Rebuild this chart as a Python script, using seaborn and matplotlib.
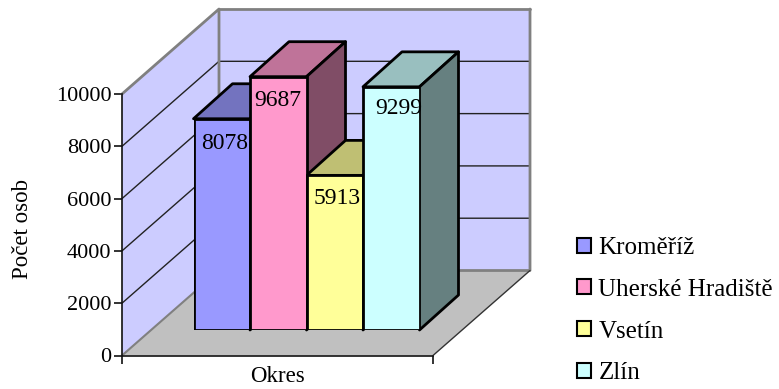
import matplotlib
matplotlib.use("Agg")
import matplotlib.pyplot as plt
from matplotlib.colors import to_rgb
from matplotlib.patches import Polygon, Rectangle
import pandas as pd
import seaborn as sns

districts = ["Kroměříž", "Uherské Hradiště", "Vsetín", "Zlín"]
people = [8078, 9687, 5913, 9299]
colors = ["#9999FF", "#FF99CC", "#FFFF99", "#CCFFFF"]
value_ticks = [0, 2000, 4000, 6000, 8000, 10000]

W, H = 779, 389
sns.set_style("white")
plt.rcParams["font.family"] = ["Liberation Serif", "DejaVu Serif"]
plt.rcParams["text.color"] = "black"
plt.rcParams["axes.labelcolor"] = "black"
plt.rcParams["xtick.labelcolor"] = "black"
plt.rcParams["ytick.labelcolor"] = "black"
WALL, FLOOR, FRAME, GRID = "#CCCCFF", "#C0C0C0", "#808080", "#222222"


def axes_at(fig, left, top, right, bottom):
    """Axes placed by pixel edges, measured from the top-left corner."""
    return fig.add_axes([left / W, 1 - bottom / H, (right - left) / W, (bottom - top) / H])


def shade(color, factor):
    return tuple(c * factor for c in to_rgb(color))


fig = plt.figure(figsize=(W / 100, H / 100), dpi=100)

# Room: the y scale of these axes belongs to the front edge of the left wall.
room = axes_at(fig, 122, 94, 433, 355.5)
room.set_xlim(0, 1)
room.set_ylim(0, 10000)
room.patch.set_visible(False)
dx, dy = 97 / 311, 3250
top = value_ticks[-1]

room.add_patch(Polygon([(0, 0), (dx, dy), (1 + dx, dy), (1, 0)], fc=FLOOR, ec="none", zorder=1, clip_on=False))
room.add_patch(Polygon([(0, 0), (dx, dy), (dx, top + dy), (0, top)], fc=WALL, ec="none", zorder=1, clip_on=False))
room.add_patch(Polygon([(dx, dy), (1 + dx, dy), (1 + dx, top + dy), (dx, top + dy)], fc=WALL, ec="none", zorder=1, clip_on=False))
for v in value_ticks[1:-1]:
    room.plot([0, dx, 1 + dx], [v, v + dy, v + dy], color=GRID, lw=1, zorder=2, clip_on=False)
room.plot([0, dx, dx, 1 + dx, 1 + dx], [top, top + dy, dy, dy, top + dy], color=FRAME, lw=2, zorder=3, clip_on=False)
room.plot([dx, 1 + dx], [top + dy, top + dy], color=FRAME, lw=2, zorder=3, clip_on=False)
room.plot([dx, 0], [dy, 0], color=FRAME, lw=1.5, zorder=3, clip_on=False)
room.plot([1, 1 + dx], [0, dy], color="#333333", lw=1, zorder=3, clip_on=False)

for side in ("top", "right"):
    room.spines[side].set_visible(False)
for side in ("left", "bottom"):
    room.spines[side].set_color("#111111")
    room.spines[side].set_linewidth(1.2)
    room.spines[side].set_zorder(4)
room.set_yticks(value_ticks)
room.set_xticks([0, 1], ["", ""])
room.tick_params(axis="both", direction="out", length=6, width=1.2, color="#111111",
                 labelsize=16, left=True, bottom=True, pad=1.5)
room.set_ylabel("Počet osob", fontsize=16.5)
room.yaxis.set_label_coords(-0.285, 0.485)
room.set_xlabel("Okres", fontsize=16.5)
room.xaxis.set_label_coords(0.5, -0.04)

# Bars: a second set of axes sits on the plane the bars stand on.
bars = axes_at(fig, 193.5, 68.5, 419.5, 330)
bars.patch.set_visible(False)
frame = pd.DataFrame({"Okres": districts, "Osob": people})
sns.barplot(data=frame, x="Okres", y="Osob", hue="Okres", order=districts, hue_order=districts,
            palette=colors, saturation=1, width=1, dodge=False, edgecolor="black", linewidth=2,
            ax=bars, zorder=6, legend=False)
bars.set_xlim(-0.5, 3.5)
bars.set_ylim(0, 10000)
bars.set_axis_off()

bar_dx, bar_dy = 39 / 56.5, 1338
for i, (value, color) in enumerate(zip(people, colors)):
    l, r = i - 0.5, i + 0.5
    bars.add_patch(Polygon([(l, value), (r, value), (r + bar_dx, value + bar_dy), (l + bar_dx, value + bar_dy)],
                           fc=shade(color, 0.75), ec="black", lw=2, zorder=5, clip_on=False, joinstyle="round"))
    bars.add_patch(Polygon([(r, 0), (r + bar_dx, bar_dy), (r + bar_dx, value + bar_dy), (r, value)],
                           fc=shade(color, 0.5), ec="black", lw=2, zorder=5, clip_on=False, joinstyle="round"))

# Value labels sit just under each bar's top edge.
label_shift = [(2.5, -25), (-0.5, -24), (2.5, -23), (8, -22)]
for i, (value, shift) in enumerate(zip(people, label_shift)):
    bars.annotate(str(value), (i, value), xytext=shift, textcoords="offset pixels",
                  ha="center", va="center", fontsize=17, color="black", zorder=8,
                  annotation_clip=False)

# Legend
handles = [Rectangle((0, 0), 1, 1, fc=c, ec="black", lw=1.5) for c in colors]
fig.legend(handles, districts, loc="upper left", bbox_to_anchor=(577 / W, 1 - 237 / H), frameon=False,
           fontsize=18, handlelength=0.55, handleheight=0.55, handletextpad=0.3,
           labelspacing=0.79, borderaxespad=0, borderpad=0)

fig.savefig("out.png", dpi=100)
